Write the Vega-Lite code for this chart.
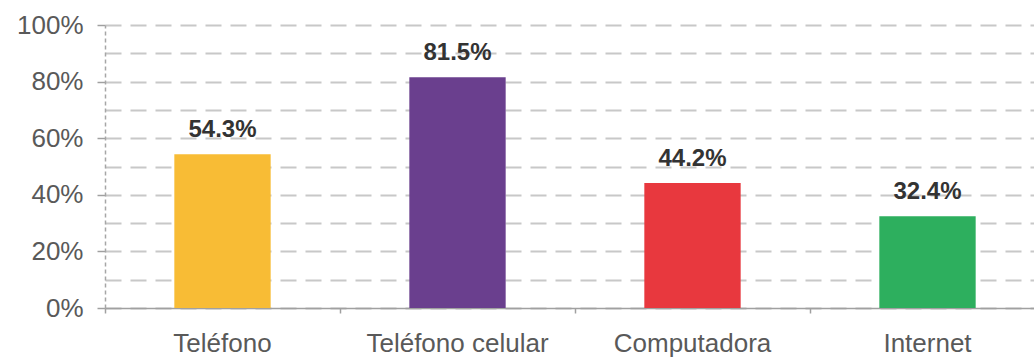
{
  "$schema": "https://vega.github.io/schema/vega-lite/v6.json",
  "width": 929,
  "height": 283,
  "autosize": "none",
  "padding": {"left": 105, "top": 25, "right": 0, "bottom": 50},
  "background": "white",
  "config": {"view": {"stroke": null}, "font": "Liberation Sans"},
  "data": {"values": [
    {"cat": "Teléfono", "v": 0.543},
    {"cat": "Teléfono celular", "v": 0.815},
    {"cat": "Computadora", "v": 0.442},
    {"cat": "Internet", "v": 0.324}
  ]},
  "encoding": {
    "y": {
      "field": "v", "type": "quantitative",
      "scale": {"domain": [0, 1], "nice": false},
      "axis": {
        "title": null,
        "values": [0, 0.1, 0.2, 0.3, 0.4, 0.5, 0.6, 0.7, 0.8, 0.9, 1],
        "format": ".0%",
        "labelExpr": "round(datum.value*10)%2==0 ? datum.label : ''",
        "labelFontSize": 26, "labelColor": "#595959", "labelPadding": 14,
        "tickSize": 8, "tickColor": "#a0a0a0", "tickWidth": 1.5,
        "tickOpacity": {"condition": {"test": "round(datum.value*10)%2==1", "value": 0}, "value": 1},
        "domainColor": "#a6a6a6", "domainDash": [4, 3], "domainWidth": 1.5,
        "grid": true, "gridDash": [16, 9], "gridColor": "#c8c8c8", "gridWidth": 2
      }
    }
  },
  "layer": [
    {
      "mark": {"type": "bar", "width": {"band": 0.41}},
      "encoding": {
        "x": {
          "field": "cat", "type": "nominal", "sort": null,
          "scale": {"range": [0, 940], "paddingInner": 0, "paddingOuter": 0},
          "axis": {
            "title": null, "labelAngle": 0, "labelFontSize": 26, "labelColor": "#595959",
            "labelLimit": 0,
            "ticks": false, "labelPadding": 22, "domainColor": "#a0a0a0", "domainWidth": 1.5,
            "grid": false, "orient": "bottom"
          }
        },
        "color": {
          "field": "cat", "type": "nominal", "legend": null,
          "scale": {"domain": ["Teléfono", "Teléfono celular", "Computadora", "Internet"],
                    "range": ["#F8BC35", "#6A3F8E", "#E8383E", "#2DAF5E"]}
        }
      }
    },
    {
      "mark": {"type": "text", "dy": -12, "baseline": "bottom", "fontWeight": "bold", "fontSize": 24, "color": "#333333"},
      "encoding": {
        "x": {
          "field": "cat", "type": "nominal", "sort": null,
          "axis": {
            "title": null, "labels": false, "domain": false, "grid": false,
            "ticks": true, "tickSize": 5, "tickColor": "#a0a0a0", "tickWidth": 1.5,
            "bandPosition": 0, "orient": "bottom"
          }
        },
        "text": {"field": "v", "type": "quantitative", "format": ".1%"}
      }
    }
  ],
  "resolve": {"axis": {"x": "independent"}}
}
